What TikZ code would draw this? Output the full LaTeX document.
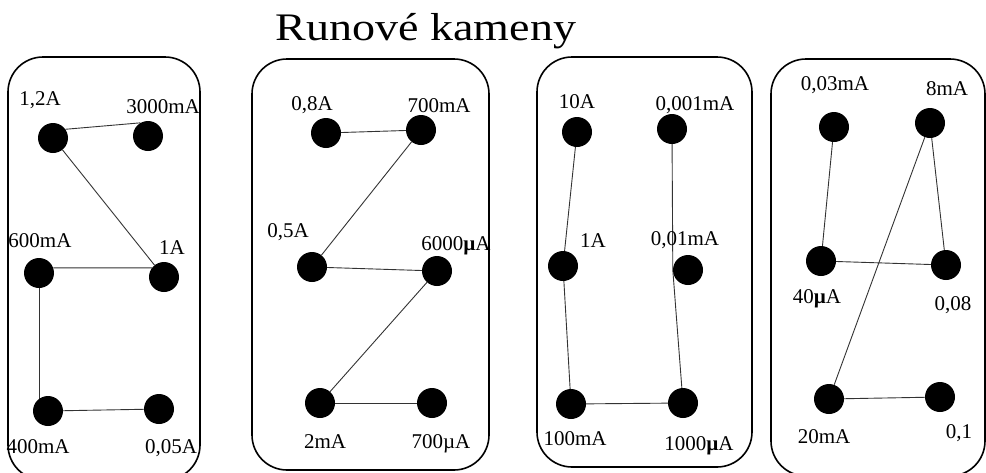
\documentclass[tikz,border=0pt]{standalone}
\usepackage{fontspec}
\setmainfont{Liberation Serif}
\usetikzlibrary{backgrounds}
\begin{document}
\begin{tikzpicture}[x=1pt,y=-1pt,
  dot/.style={circle,fill=black,minimum size=30pt,inner sep=0pt},
  lbl/.style={anchor=base,inner sep=0pt,font=\fontsize{21}{24}\selectfont},
  panel/.style={draw=black,line width=1.6pt,rounded corners=35pt},
  link/.style={draw=black!80,line width=0.9pt}]
\useasboundingbox (0,0) rectangle (986,472);
% title
\node[anchor=base,inner sep=0pt,font=\fontsize{39}{44}\selectfont] (title) at (426,40) {\scalebox{1.18}[1]{Runové kameny}};
% panels
\draw[panel] (8,57) rectangle (200,480);
\draw[panel] (252,59) rectangle (489,470);
\draw[panel] (537,57) rectangle (752,467);
\draw[panel] (771,59) rectangle (985,476);
% panel 1
\node[dot] (p1a) at (53,138) {};
\node[dot] (p1b) at (148,136) {};
\node[dot] (p1c) at (39,273) {};
\node[dot] (p1d) at (164,277) {};
\node[dot] (p1e) at (48,411) {};
\node[dot] (p1f) at (159,409) {};
\node[lbl] (l1a) at (40,105) {1,2A};
\node[lbl] (l1b) at (163,113) {3000mA};
\node[lbl] (l1c) at (40,247) {600mA};
\node[lbl] (l1d) at (172,254) {1A};
\node[lbl] (l1e) at (38,453) {400mA};
\node[lbl] (l1f) at (171,453) {0,05A};
% panel 2
\node[dot] (p2a) at (326,133) {};
\node[dot] (p2b) at (421,130) {};
\node[dot] (p2c) at (312,267) {};
\node[dot] (p2d) at (437,271) {};
\node[dot] (p2e) at (320,403) {};
\node[dot] (p2f) at (432,403) {};
\node[lbl] (l2a) at (312,110) {0,8A};
\node[lbl] (l2b) at (439,112) {700mA};
\node[lbl] (l2c) at (288,237) {0,5A};
\node[lbl] (l2d) at (456,250) {6000\textbf{µ}A};
\node[lbl] (l2e) at (325,448) {2mA};
\node[lbl] (l2f) at (441,448) {700µA};
% panel 3
\node[dot] (p3a) at (577,132) {};
\node[dot] (p3b) at (672,129) {};
\node[dot] (p3c) at (563,266) {};
\node[dot] (p3d) at (688,270) {};
\node[dot] (p3e) at (571,404) {};
\node[dot] (p3f) at (683,403) {};
\node[lbl] (l3a) at (577,108) {10A};
\node[lbl] (l3b) at (695,110) {0,001mA};
\node[lbl] (l3c) at (593,247) {1A};
\node[lbl] (l3d) at (685,245) {0,01mA};
\node[lbl] (l3e) at (575,445) {100mA};
\node[lbl] (l3f) at (699,450) {1000\textbf{µ}A};
% panel 4
\node[dot] (p4a) at (834,127) {};
\node[dot] (p4b) at (930,123) {};
\node[dot] (p4c) at (821,261) {};
\node[dot] (p4d) at (946,265) {};
\node[dot] (p4e) at (829,399) {};
\node[dot] (p4f) at (940,397) {};
\node[lbl] (l4a) at (835,90) {0,03mA};
\node[lbl] (l4b) at (947,95) {8mA};
\node[lbl] (l4c) at (817,303) {40\textbf{µ}A};
\node[lbl] (l4d) at (953,310) {0,08};
\node[lbl] (l4e) at (824,443) {20mA};
\node[lbl] (l4f) at (959,438) {0,1};
% connectors
\begin{scope}[on background layer]
\draw[link] (p1a.35) -- (p1b.120);
\draw[link] (p1a) -- (p1d);
\draw[link] (p1c.20) -- (p1d.143);
\draw[link] (p1c) -- (p1c |- p1e);
\draw[link] (p1e) -- (p1f);
\draw[link] (p2a) -- (p2b);
\draw[link] (p2b) -- (p2c);
\draw[link] (p2c) -- (p2d);
\draw[link] (p2d) -- (p2e);
\draw[link] (p2e) -- (p2f);
\draw[link] (p3a) -- (p3c);
\draw[link] (p3c) -- (p3e);
\draw[link] (p3e) -- (p3f);
\draw[link] (p3f) -- (p3d.180);
\draw[link] (p3d.180) -- (p3b);
\draw[link] (p4a) -- (p4c);
\draw[link] (p4c) -- (p4d);
\draw[link] (p4d) -- (p4b);
\draw[link] (p4b) -- (p4e);
\draw[link] (p4e) -- (p4f);
\end{scope}
\end{tikzpicture}
\end{document}
